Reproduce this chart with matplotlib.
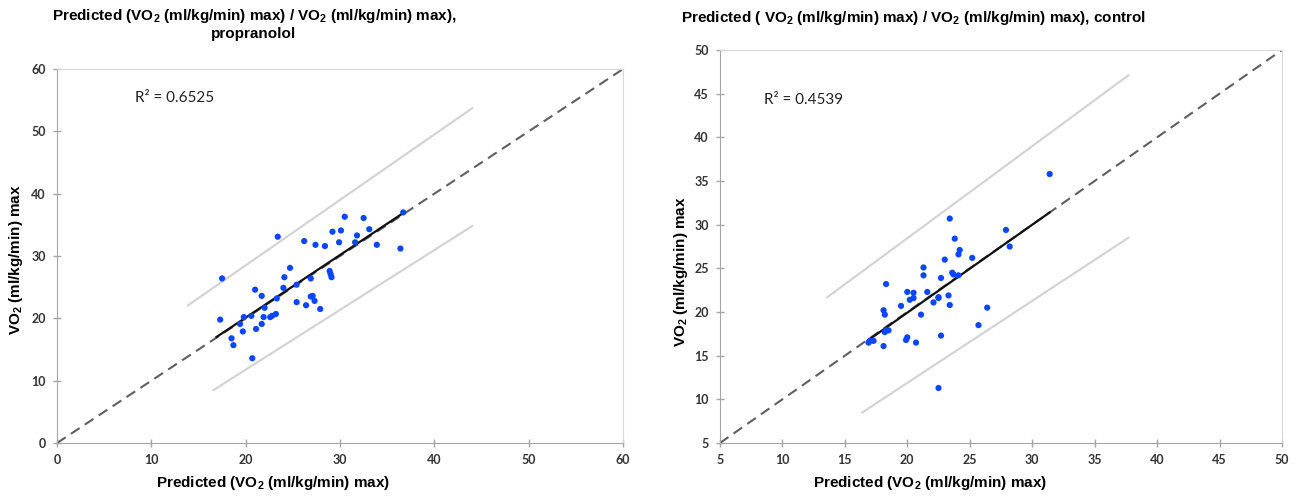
import numpy as np
import matplotlib.pyplot as plt

# %% data
# propranolol panel
prop_pred = [17.5, 23.4, 26.2, 27.4, 28.4, 29.2, 30.1, 30.5, 29.9, 32.5, 33.1, 31.8,
             31.6, 33.9, 36.7, 36.4, 24.7, 24.1, 24.0, 25.4, 26.9, 28.9, 29.0, 29.1,
             21.0, 21.7, 23.3, 22.0, 25.4, 26.4, 26.9, 27.1, 27.3, 27.9, 17.3, 19.8,
             20.6, 19.4, 19.7, 18.5, 18.7, 21.1, 21.7, 21.9, 22.6, 22.8, 23.2, 20.7]
prop_meas = [26.4, 33.1, 32.4, 31.8, 31.6, 33.9, 34.1, 36.3, 32.2, 36.1, 34.3, 33.3,
             32.2, 31.8, 37.0, 31.2, 28.1, 26.6, 24.9, 25.4, 26.4, 27.6, 27.1, 26.6,
             24.6, 23.6, 23.2, 21.7, 22.6, 22.1, 23.5, 23.6, 22.8, 21.5, 19.8, 20.2,
             20.4, 19.1, 17.9, 16.8, 15.7, 18.3, 19.1, 20.2, 20.2, 20.4, 20.7, 13.6]
prop_fit_x = [16.9, 36.7]
prop_fit_y = [17.0, 36.9]
prop_up_x = [13.9, 44.0]
prop_up_y = [22.1, 53.7]
prop_lo_x = [16.6, 44.0]
prop_lo_y = [8.5, 34.8]
prop_r2 = "R² = 0.6525"

# control panel
ctrl_pred = [31.4, 23.4, 27.9, 28.2, 23.8, 24.2, 24.1, 25.2, 23.0, 21.3, 21.3, 22.7,
             23.6, 23.7, 24.1, 18.3, 20.0, 20.5, 21.6, 20.2, 20.5, 22.5, 22.5, 23.3,
             22.1, 23.4, 19.5, 18.1, 18.2, 21.1, 26.4, 25.7, 18.3, 18.5, 18.2, 17.0,
             17.3, 16.9, 20.0, 19.9, 20.7, 22.7, 18.1, 22.5]
ctrl_meas = [35.8, 30.7, 29.4, 27.5, 28.4, 27.1, 26.6, 26.2, 26.0, 25.1, 24.2, 23.9,
             24.5, 24.3, 24.2, 23.2, 22.3, 22.2, 22.3, 21.4, 21.6, 21.7, 21.6, 21.9,
             21.1, 20.8, 20.7, 20.2, 19.7, 19.7, 20.5, 18.5, 17.9, 17.9, 17.7, 16.7,
             16.7, 16.5, 17.1, 16.8, 16.5, 17.3, 16.1, 11.3]
ctrl_fit_x = [16.9, 31.4]
ctrl_fit_y = [16.8, 31.4]
ctrl_up_x = [13.6, 37.7]
ctrl_up_y = [21.7, 47.1]
ctrl_lo_x = [16.4, 37.7]
ctrl_lo_y = [8.5, 28.5]
ctrl_r2 = "R² = 0.4539"

vo2 = r"VO$_\mathregular{2}$"
title_left = f"Predicted ({vo2} (ml/kg/min) max) / {vo2} (ml/kg/min) max),\npropranolol"
title_right = f"Predicted ( {vo2} (ml/kg/min) max) / {vo2} (ml/kg/min) max), control"
xlab = f"Predicted ({vo2} (ml/kg/min) max)"
ylab = f"{vo2} (ml/kg/min) max"

narrow = ['Liberation Sans Narrow', 'Liberation Sans', 'DejaVu Sans']
plt.rcParams['mathtext.fontset'] = 'custom'
plt.rcParams['mathtext.rm'] = 'Liberation Sans Narrow:bold'

# %% plot
fig = plt.figure(figsize=(13.04, 4.98), dpi=100)
axL = fig.add_axes([0.0437, 0.1104, 0.4341, 0.7510])
axR = fig.add_axes([0.5521, 0.1104, 0.4310, 0.7892])


def draw(ax, px, py, fx, fy, ux, uy, lx, ly, lim, ticks, r2, r2pos):
    ax.plot(lim, lim, ls=(0, (5, 3)), color='#5f5f5f', lw=1.5, zorder=2)
    ax.plot(ux, uy, color='#d2d2d2', lw=1.5, zorder=1)
    ax.plot(lx, ly, color='#d2d2d2', lw=1.5, zorder=1)
    ax.plot(fx, fy, color='#111111', lw=1.6, zorder=3)
    ax.scatter(px, py, s=20, color='#0b46ff', edgecolors='none', zorder=4)
    ax.set_xlim(lim)
    ax.set_ylim(lim)
    labels = [str(t) for t in ticks]
    tkw = dict(fontsize=9, fontweight='bold', family=['Lato', 'DejaVu Sans'], color='#333333')
    ax.set_xticks(ticks, labels=labels, **tkw)
    ax.set_yticks(ticks, labels=labels, **tkw)
    for s in ['left', 'bottom']:
        ax.spines[s].set_color('#a6a6a6')
    for s in ['top', 'right']:
        ax.spines[s].set_color('#d9d9d9')
    ax.tick_params(direction='inout', length=6, width=1, color='#a6a6a6', pad=5)
    ax.text(r2pos[0], r2pos[1], r2, fontsize=11, family=['Lato', 'DejaVu Sans'],
            va='center', ha='left', color='#222222')


draw(axL, prop_pred, prop_meas, prop_fit_x, prop_fit_y, prop_up_x, prop_up_y,
     prop_lo_x, prop_lo_y, [0, 60], [0, 10, 20, 30, 40, 50, 60], prop_r2, (8.3, 55.4))
draw(axR, ctrl_pred, ctrl_meas, ctrl_fit_x, ctrl_fit_y, ctrl_up_x, ctrl_up_y,
     ctrl_lo_x, ctrl_lo_y, [5, 50], [5, 10, 15, 20, 25, 30, 35, 40, 45, 50], ctrl_r2, (8.5, 44.3))

# titles and axis labels, placed like the source (not centred on the axes)
fig.text(254 / 1304, 1 - 24 / 498, title_left, ha='center', va='center', fontsize=11,
         fontweight='bold', family=narrow, linespacing=1.1)
fig.text(913 / 1304, 1 - 18 / 498, title_right, ha='center', va='center', fontsize=11,
         fontweight='bold', family=narrow)
fig.text(273 / 1304, 1 - 483 / 498, xlab, ha='center', va='center', fontsize=11,
         fontweight='bold', family=narrow)
fig.text(930 / 1304, 1 - 483 / 498, xlab, ha='center', va='center', fontsize=11,
         fontweight='bold', family=narrow)
fig.text(16 / 1304, 1 - 260 / 498, ylab, ha='center', va='center', fontsize=11,
         fontweight='bold', family=narrow, rotation=90)
fig.text(681 / 1304, 1 - 272 / 498, ylab, ha='center', va='center', fontsize=11,
         fontweight='bold', family=narrow, rotation=90)

fig.savefig('out.png', dpi=100)
